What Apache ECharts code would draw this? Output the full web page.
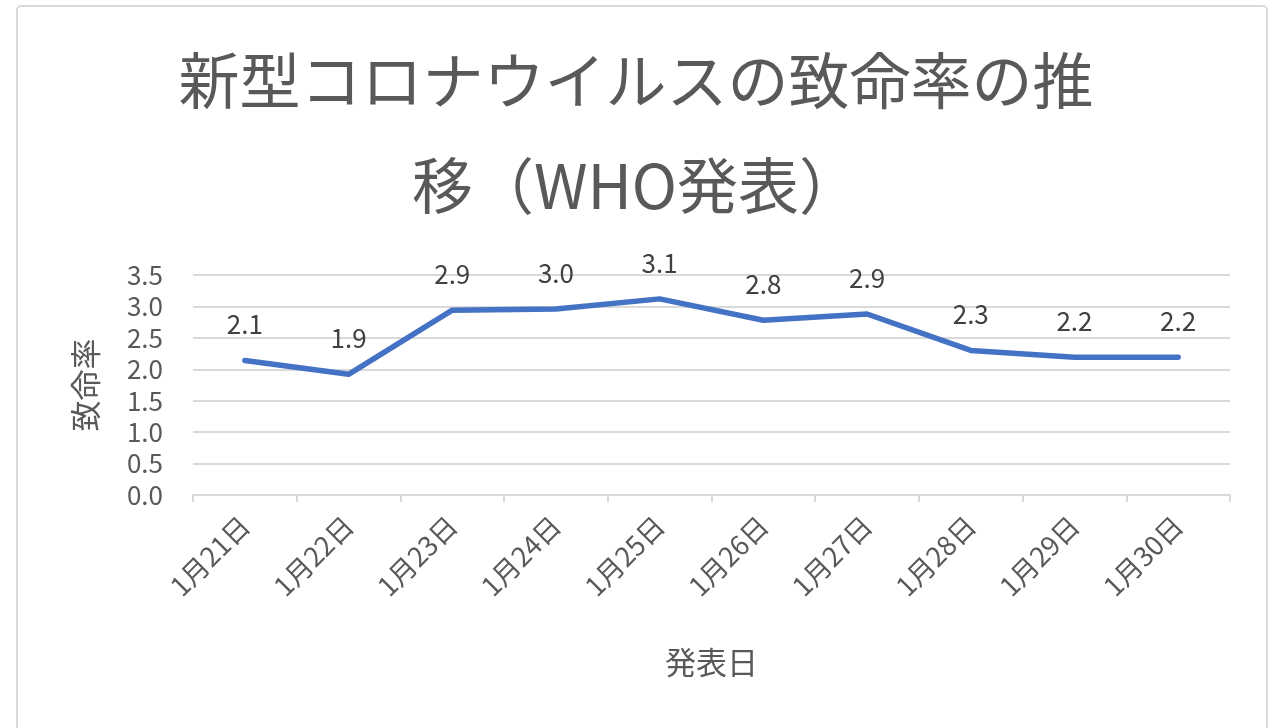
<!DOCTYPE html>
<html><head><meta charset="utf-8">
<script src="https://cdn.jsdelivr.net/npm/echarts@6/dist/echarts.min.js"></script>
<style>html,body{margin:0;padding:0;background:#fff}#c{width:1272px;height:728px}</style>
</head><body><div id="c"></div>
<script>
const titleText = '新型コロナウイルスの致命率の推\n移（WHO発表）';
const categories = ['1月21日','1月22日','1月23日','1月24日','1月25日','1月26日','1月27日','1月28日','1月29日','1月30日'];
const fatalityRate = [2.14, 1.92, 2.94, 2.96, 3.12, 2.78, 2.88, 2.30, 2.19, 2.19];
const yAxisName = '致命率';
const xAxisName = '発表日';

const FONT = '"Noto Sans CJK JP", "Noto Sans", sans-serif';
const TXT = '#595959';
const chart = echarts.init(document.getElementById('c'), null, {renderer:'canvas'});
chart.setOption({
  animation:false,
  backgroundColor:'#fff',
  graphic:[{type:'rect', shape:{x:17,y:6,width:1250,height:740,r:4}, style:{fill:'none',stroke:'#d9d9d9',lineWidth:2}, z:-1}],
  title:{text:titleText,left:'center',top:23,textStyle:{fontFamily:FONT,fontSize:61,fontWeight:'normal',color:TXT,lineHeight:105}},
  grid:{left:193,right:42,top:275,bottom:233},
  xAxis:{type:'category',data:categories,boundaryGap:true,
    name:xAxisName,nameLocation:'middle',nameGap:152,
    nameTextStyle:{fontFamily:FONT,fontSize:31,color:TXT},
    axisLine:{lineStyle:{color:'#d9d9d9',width:2}},
    axisTick:{show:true,length:7,lineStyle:{color:'#d9d9d9',width:2}},
    axisLabel:{rotate:45,margin:26,fontFamily:FONT,fontSize:27,color:TXT}},
  yAxis:{type:'value',min:0,max:3.5,interval:0.5,
    name:yAxisName,nameLocation:'middle',nameGap:92,
    nameTextStyle:{fontFamily:FONT,fontSize:31,color:TXT},
    axisLine:{show:false},axisTick:{show:false},
    splitLine:{lineStyle:{color:'#d9d9d9',width:2}},
    axisLabel:{margin:30,fontFamily:FONT,fontSize:26,color:TXT,formatter:v=>v.toFixed(1)}},
  series:[{type:'line',data:fatalityRate,showSymbol:true,symbol:'circle',symbolSize:2,
    itemStyle:{color:'#4472C4'},
    lineStyle:{color:'#4472C4',width:5.5,cap:'round',join:'round'},
    label:{show:true,position:'top',distance:22,fontFamily:FONT,fontSize:26,color:'#404040',
      formatter:p=>p.value.toFixed(1)}}]
});
</script></body></html>
